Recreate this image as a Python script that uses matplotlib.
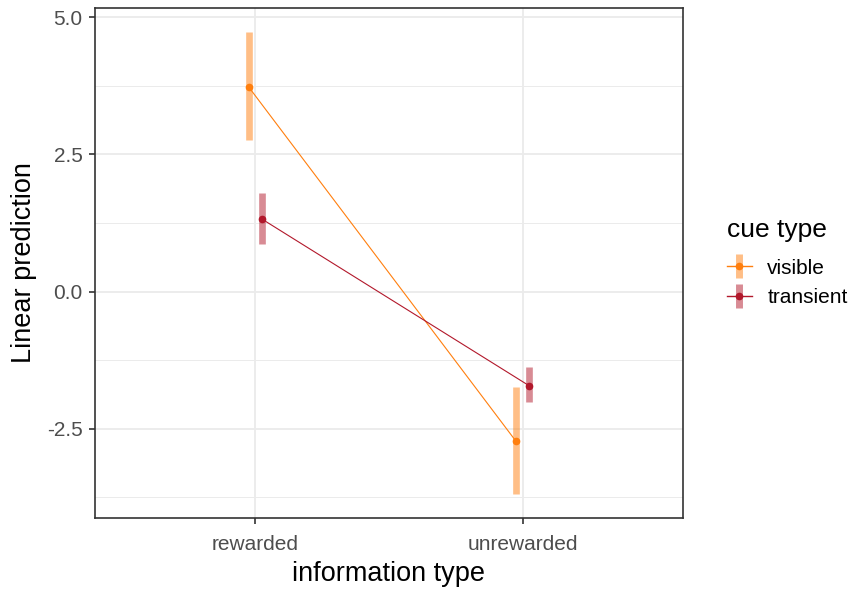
import matplotlib
matplotlib.use("Agg")
import matplotlib.pyplot as plt
import numpy as np
from matplotlib.lines import Line2D

plt.rcParams["font.family"] = ["Liberation Sans", "DejaVu Sans"]

# data
categories = ["rewarded", "unrewarded"]
groups = ["visible", "transient"]
pred_visible = [3.73, -2.73]
low_visible = [2.76, -3.69]
high_visible = [4.73, -1.74]
pred_transient = [1.32, -1.72]
low_transient = [0.87, -2.01]
high_transient = [1.80, -1.37]

colors = {"visible": "#FF7F0E", "transient": "#B2182B"}
dodge = {"visible": -0.025, "transient": 0.025}
series = {
    "visible": (pred_visible, low_visible, high_visible),
    "transient": (pred_transient, low_transient, high_transient),
}

fig = plt.figure(figsize=(8.53, 5.90), dpi=100)
ax = fig.add_axes([95 / 853, 1 - 518 / 590, (683 - 95) / 853, (518 - 8) / 590])

x = np.arange(1, len(categories) + 1)
handles = []
for g in groups:
    pred, lo, hi = series[g]
    xs = x + dodge[g]
    c = colors[g]
    ax.vlines(xs, lo, hi, color=c, alpha=0.5, linewidth=4.8, zorder=3)
    ax.plot(xs, pred, color=c, linewidth=0.8, marker="o", markersize=4.5, zorder=4)
    bar = Line2D([], [], color=c, alpha=0.5, marker="|", markersize=17,
                 markeredgewidth=5, linestyle="none")
    pt = Line2D([], [], color=c, linewidth=1.0, marker="o", markersize=4.5)
    handles.append((bar, pt))

ax.set_xlim(0.4, 2.6)
ax.set_ylim(-4.13, 5.17)
ax.set_xticks(x)
ax.set_xticklabels(categories)
ax.set_yticks([-2.5, 0.0, 2.5, 5.0])
ax.set_yticklabels(["-2.5", "0.0", "2.5", "5.0"])
ax.set_yticks([-3.75, -1.25, 1.25, 3.75], minor=True)

ax.grid(True, which="major", color="#EBEBEB", linewidth=1.3, zorder=0)
ax.grid(True, which="minor", axis="y", color="#EBEBEB", linewidth=0.7, zorder=0)
ax.set_axisbelow(True)
for s in ax.spines.values():
    s.set_color("#333333")
    s.set_linewidth(1.2)
ax.tick_params(which="major", length=4, width=1.2, color="#333333",
               labelcolor="#4D4D4D", labelsize=15, pad=5)
ax.tick_params(axis="x", which="major", pad=8)
ax.tick_params(which="minor", length=0)

ax.set_xlabel("information type", fontsize=19.5, labelpad=5)
ax.set_ylabel("Linear prediction", fontsize=19.5, labelpad=7)

fig.text(727 / 853, 1 - 230 / 590, "cue type", fontsize=19, ha="left", va="center")
leg = fig.legend(handles, groups, loc="upper left", bbox_to_anchor=(710 / 853, 1 - 242 / 590),
                 fontsize=15, frameon=False, borderpad=0.3,
                 handlelength=1.2, labelspacing=0.5, handletextpad=0.75)

fig.savefig("out.png", dpi=100)
